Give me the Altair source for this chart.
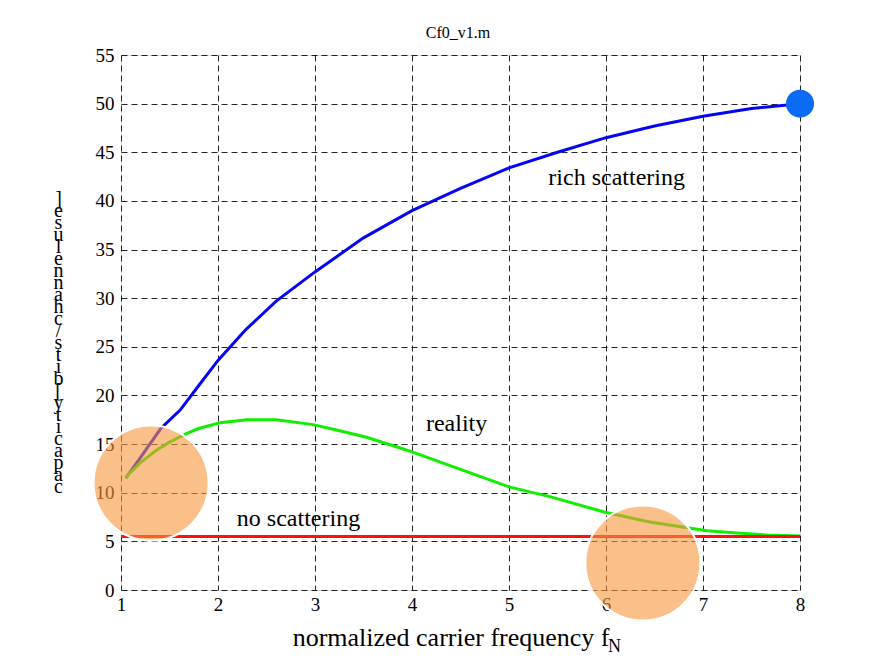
import altair as alt
import pandas as pd

FONT = "Liberation Serif"

# ---- data ----
x_ticks = [1, 2, 3, 4, 5, 6, 7, 8]
y_ticks = [0, 5, 10, 15, 20, 25, 30, 35, 40, 45, 50, 55]

rich_x = [1.05, 1.2, 1.41, 1.61, 1.8, 2.0, 2.28, 2.6, 3.0, 3.5, 4.0, 4.5, 5.0, 5.5, 6.0, 6.5, 7.0, 7.5, 8.0]
rich_y = [11.5, 13.6, 16.6, 18.5, 21.0, 23.6, 26.7, 29.7, 32.7, 36.2, 39.0, 41.3, 43.4, 45.0, 46.5, 47.7, 48.7, 49.5, 50.0]

real_x = [1.05, 1.08, 1.2, 1.37, 1.5, 1.68, 1.8, 2.02, 2.3, 2.6, 2.98, 3.2, 3.53, 3.88, 4.0, 4.5, 5.0,
          5.42, 5.99, 6.45, 6.84, 7.04, 7.35, 7.66, 8.0]
real_y = [11.5, 11.9, 13.1, 14.4, 15.2, 16.1, 16.6, 17.2, 17.5, 17.5, 17.0, 16.5, 15.7, 14.6, 14.2, 12.4, 10.6,
          9.6, 8.0, 7.0, 6.4, 6.1, 5.85, 5.65, 5.55]

none_x = [1.0, 8.0]
none_y = [5.5, 5.5]

series_names = ["rich scattering", "reality", "no scattering"]
series_colors = ["#0505F5", "#11EE00", "#FF1010"]

label_text = ["rich scattering", "reality", "no scattering"]
label_x = [6.11, 4.46, 2.83]
label_y = [41.6, 16.35, 6.58]

highlight_x = [1.31, 6.38]
highlight_y = [11.0, 2.78]

endpoint_x = [8.0]
endpoint_y = [50.0]

title_text = "Cf0_v1.m"
x_title = "normalized carrier frequency f"
x_title_sub = "N"
y_title_chars = list("]esulennahc/stib[yticapac")

# ---- tables ----
def series_df(name, xs, ys):
    return pd.DataFrame({"x": xs, "y": ys, "series": name, "order": list(range(len(xs)))})

lines_df = pd.concat([
    series_df(series_names[0], rich_x, rich_y),
    series_df(series_names[1], real_x, real_y),
    series_df(series_names[2], none_x, none_y),
], ignore_index=True)

labels_df = pd.DataFrame({"text": label_text, "x": label_x, "y": label_y})
circles_df = pd.DataFrame({"x": highlight_x, "y": highlight_y})
dot_df = pd.DataFrame({"x": endpoint_x, "y": endpoint_y})
sub_df = pd.DataFrame({"t": [x_title_sub]})
title_df = pd.DataFrame({"t": [title_text]})

xscale = alt.Scale(domain=[1, 8], nice=False, zero=False)
yscale = alt.Scale(domain=[0, 55], nice=False, zero=False)

grid_kw = dict(grid=True, gridDash=[6, 4], gridColor="#000000", gridOpacity=0.85, gridWidth=1,
               domain=False, ticks=False, tickSize=0, labelFont=FONT, labelFontSize=19,
               labelColor="#000000", labelFlush=False, labelOverlap=False, format="d")

x_axis = alt.Axis(values=x_ticks, labelPadding=5, title=x_title, titleFont=FONT, titleFontSize=26,
                  titleFontWeight="normal", titleColor="#000000", titleX=488, titleY=55,
                  titleAlign="right", titleBaseline="alphabetic", titleAnchor="start", **grid_kw)
y_axis = alt.Axis(values=y_ticks, labelPadding=7, title=y_title_chars, titleFont=FONT, titleFontSize=20,
                  titleFontWeight="normal", titleColor="#000000", titleAngle=0, titleX=-63, titleY=143,
                  titleAlign="center", titleBaseline="middle", titleLineHeight=12, **grid_kw)

lines = alt.Chart(lines_df).mark_line(strokeWidth=3).encode(
    x=alt.X("x:Q", scale=xscale, axis=x_axis),
    y=alt.Y("y:Q", scale=yscale, axis=y_axis),
    color=alt.Color("series:N", scale=alt.Scale(domain=series_names, range=series_colors), legend=None),
    detail="series:N",
    order="order:Q",
)

labels = alt.Chart(labels_df).mark_text(font=FONT, fontSize=24, align="center", baseline="alphabetic",
                                        color="#000000").encode(
    x=alt.X("x:Q", scale=xscale), y=alt.Y("y:Q", scale=yscale), text="text:N")

circles = alt.Chart(circles_df).mark_circle(size=13225, color="#F9953A", opacity=1, fillOpacity=0.6,
                                            stroke="white", strokeWidth=2, strokeOpacity=1).encode(
    x=alt.X("x:Q", scale=xscale), y=alt.Y("y:Q", scale=yscale))

dot = alt.Chart(dot_df).mark_circle(size=784, color="#0A6CF5", opacity=1).encode(
    x=alt.X("x:Q", scale=xscale), y=alt.Y("y:Q", scale=yscale))

sub = alt.Chart(sub_df).mark_text(font=FONT, fontSize=18, align="left", baseline="alphabetic",
                                  color="#000000").encode(
    x=alt.value(487), y=alt.value(597), text="t:N")

title = alt.Chart(title_df).mark_text(font=FONT, fontSize=16, align="center", baseline="alphabetic",
                                      color="#000000").encode(
    x=alt.value(337), y=alt.value(-17), text="t:N")

chart = alt.layer(lines, labels, circles, dot, sub, title).properties(
    width=679, height=535,
    autosize=alt.AutoSizeParams(type="none"),
    padding={"left": 113, "top": 47, "right": 60, "bottom": 66},
).configure_view(stroke="#000000", strokeWidth=1.2).configure(background="white")

chart.save("out.html", embed_options={"renderer": "svg", "actions": False})
